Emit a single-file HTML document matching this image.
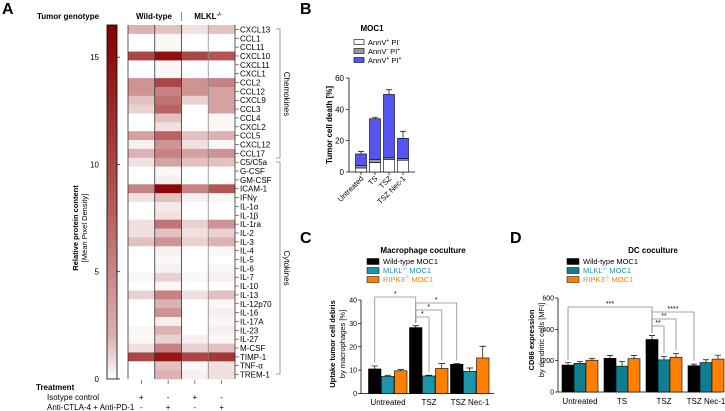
<!DOCTYPE html>
<html><head><meta charset="utf-8"><style>
body{margin:0;background:#fff}
svg{display:block;font-family:"Liberation Sans",Arial,sans-serif}
</style></head><body>
<svg id="fig" width="725" height="411" viewBox="0 0 725 411" xmlns="http://www.w3.org/2000/svg">
<text x="2" y="14" font-size="16" font-weight="bold">A</text>
<text x="300" y="14" font-size="16" font-weight="bold">B</text>
<text x="300" y="243" font-size="16" font-weight="bold">C</text>
<text x="510" y="243" font-size="16" font-weight="bold">D</text>
</svg>
<script>
const NS='http://www.w3.org/2000/svg';
const svg=document.getElementById('fig');
function mk(tag,a,txt){const e=document.createElementNS(NS,tag);for(const k in a)e.setAttribute(k,a[k]);if(txt!==undefined)e.textContent=txt;svg.appendChild(e);return e;}

/* ---------- Panel A data ---------- */
const hmRows=['CXCL13','CCL1','CCL11','CXCL10','CXCL11','CXCL1','CCL2','CCL12','CXCL9','CCL3','CCL4','CXCL2','CCL5','CXCL12','CCL17','C5/C5a','G-CSF','GM-CSF','ICAM-1','IFNγ','IL-1α','IL-1β','IL-1ra','IL-2','IL-3','IL-4','IL-5','IL-6','IL-7','IL-10','IL-13','IL-12p70','IL-16','IL-17A','IL-23','IL-27','M-CSF','TIMP-1','TNF-α','TREM-1'];
const hmWtIso=[5,0,0,12,0,0,7,7,4,3,0,0,6,1,5,2,0,0,8,2,0,0,2,2,4,0,0,0,0.5,0,3,0,0,0,0.5,0.5,2,12,0,0];
const hmWtAnti=[4,0.5,0.5,15.5,0.5,0.5,12,8,9,10,4,2,10,7,8,6,0.5,1,16,4,1.5,2,9,4,7,1,0.5,1,3,0.5,8,5,7,1,5,3,8,15,4,5];
const hmKoIso=[2,0,0,12,0,0,7,7,3,0,0,0,4,2,6,4,0,0,8,1,0,0,3,2,3,0,0,0,0.5,0,2,0,0,0,0,1,3,12,0.5,1];
const hmKoAnti=[4,0,0,11,0,0,8,6,6,6,0.5,0.5,5,0.5,7,4,0,0,11,0.5,0,0,7,3,5,0.5,0,0.5,1,0,4,0.5,1,0.5,1,0.5,4,13,2,2];
const hmCols=[hmWtIso,hmWtAnti,hmKoIso,hmKoAnti];
const cbTicks=[0,5,10,15];
const cbMax=16.5;

const hmX0=128,hmW=26.75,hmTop=25,rowH=8.85;
const cbY=v=>379-(v/cbMax)*354;
function heat(v){const t=Math.min(1,v/cbMax);const r=Math.round(255-(255-139)*t),g=Math.round(255-255*t),b=Math.round(255-255*t);return `rgb(${r},${g},${b})`;}

mk('text',{x:37,y:19,'font-size':8,'font-weight':'bold',},'Tumor genotype');
mk('text',{x:154,y:19,'font-size':8,'font-weight':'bold','text-anchor':'middle',},'Wild-type');
mk('line',{x1:181.5,y1:12,x2:181.5,y2:21,stroke:'#555','stroke-width':0.7,});
const mh=mk('text',{x:208,y:19,'font-size':8,'font-weight':'bold','text-anchor':'middle',});
mh.innerHTML='MLKL<tspan font-size="5.5" dy="-3">-/-</tspan>';

// colorbar
const defs=mk('defs',{});
defs.innerHTML='<linearGradient id="cbg" x1="0" y1="1" x2="0" y2="0"><stop offset="0" stop-color="#fff"/><stop offset="0.12" stop-color="#dcb0b0"/><stop offset="0.5" stop-color="#b45858"/><stop offset="1" stop-color="#850000"/></linearGradient>';
mk('rect',{x:107,y:25,width:10,height:354,fill:'url(#cbg)',stroke:'#000','stroke-width':0.8,});
cbTicks.forEach(v=>{
  const t=mk('line',{x1:117,y1:cbY(v),x2:120,y2:cbY(v),stroke:'#000','stroke-width':0.7});
  
  
  const l=mk('text',{x:99,y:cbY(v)+3,'font-size':8,'text-anchor':'end'},String(v));
  
  
});
mk('text',{x:0,y:0,'font-size':7.5,'font-weight':'bold','text-anchor':'middle',transform:'translate(78,228) rotate(-90)',},'Relative protein content');
mk('text',{x:0,y:0,'font-size':7.5,'text-anchor':'middle',transform:'translate(87,228) rotate(-90)',},'[Mean Pixel Density]');

// heatmap cells
hmCols.forEach((col,c)=>{
  col.forEach((v,r)=>{
    const cell=mk('rect',{x:hmX0+c*hmW,y:hmTop+r*rowH,width:hmW+0.3,height:rowH+0.3,fill:heat(v)});
    
    
  });
});
[0,1,2,3,4].forEach(i=>{
  const ln=mk('line',{x1:hmX0+i*hmW,y1:hmTop,x2:hmX0+i*hmW,y2:hmTop+hmRows.length*rowH,stroke:i===3?'#888':'#333','stroke-width':0.8});
  
  
});
hmRows.forEach((n,r)=>{
  const y=hmTop+(r+0.5)*rowH;
  const tk=mk('line',{x1:235,y1:y,x2:239,y2:y,stroke:'#333','stroke-width':0.6});
  
  
  const lb=mk('text',{x:240,y:y+3,'font-size':8},n);
  
  
});
// brackets
mk('path',{d:'M276,29 H280 V158 H276',fill:'none',stroke:'#888','stroke-width':0.8,});
mk('path',{d:'M276,162 H280 V374 H276',fill:'none',stroke:'#888','stroke-width':0.8,});
mk('text',{x:0,y:0,'font-size':8,'text-anchor':'middle',transform:'translate(284,94) rotate(90)',},'Chemokines');
mk('text',{x:0,y:0,'font-size':8,'text-anchor':'middle',transform:'translate(284,268) rotate(90)',},'Cytokines');
// treatment
const isoSigns=['+','-','+','-'],antiSigns=['-','+','-','+'];
mk('text',{x:36,y:390,'font-size':8,'font-weight':'bold',},'Treatment');
mk('text',{x:47,y:400,'font-size':8,},'Isotype control');
mk('text',{x:47,y:410,'font-size':8,},'Anti-CTLA-4 + Anti-PD-1');
[0,1,2,3].forEach(c=>{
  const cx=hmX0+(c+0.5)*hmW;
  const t=mk('line',{x1:cx,y1:380,x2:cx,y2:384,stroke:'#333','stroke-width':0.6});
  
  
  const a=mk('text',{x:cx,y:400,'font-size':8,'text-anchor':'middle'},isoSigns[c]);
  
  
  const b=mk('text',{x:cx,y:410,'font-size':8,'text-anchor':'middle'},antiSigns[c]);
  
  
});

/* ---------- Panel B data ---------- */
const bCats=['Untreated','TS','TSZ','TSZ Nec-1'];
const bWhite=[2.5,6,8,7.5];
const bGray=[1.5,2,1,1];
const bTotal=[11.5,34,49.5,21.5];
const bErr=[1.5,1,3,4.5];
const bTicks=[0,20,40,60];
const bY=v=>172-v/60*94;
const bX=i=>361+i*14;
mk('text',{x:372,y:31,'font-size':8,'font-weight':'bold','text-anchor':'middle',},'MOC1');
const bLeg=[['#fff','AnnV','+','PI','-'],['#999','AnnV','-','PI','+'],['#5555f2','AnnV','+','PI','+']];
bLeg.forEach((l,i)=>{
  const y=43+i*9;
  const r=mk('rect',{x:354,y:y-3.5,width:10,height:5,fill:l[0],stroke:'#000','stroke-width':0.6});
  
  
  const t=mk('text',{x:368,y:y+2,'font-size':7.5});
  t.innerHTML=`${l[1]}<tspan font-size="5" dy="-3">${l[2]}</tspan><tspan dy="3"> ${l[3]}</tspan><tspan font-size="5" dy="-3">${l[4]}</tspan>`;
  
  
});
mk('line',{x1:349,y1:bY(60),x2:349,y2:172,stroke:'#000','stroke-width':0.8,});
mk('line',{x1:349,y1:172,x2:415,y2:172,stroke:'#000','stroke-width':0.8,});
bTicks.forEach(v=>{
  const t=mk('line',{x1:346,y1:bY(v),x2:349,y2:bY(v),stroke:'#000','stroke-width':0.7});
  
  
  const l=mk('text',{x:344,y:bY(v)+3,'font-size':8,'text-anchor':'end'},String(v));
  
  
});
mk('text',{x:0,y:0,'font-size':8,'font-weight':'bold','text-anchor':'middle',transform:'translate(332,125) rotate(-90)',},'Tumor cell death [%]');
bCats.forEach((c,i)=>{
  const x=bX(i)-5.5;
  const eb=mk('path',{d:`M${bX(i)},${bY(bTotal[i])} V${bY(bTotal[i]+bErr[i])} M${bX(i)-3},${bY(bTotal[i]+bErr[i])} H${bX(i)+3}`,stroke:'#000','stroke-width':0.7,fill:'none'});
  
  
  const bl=mk('rect',{x:x,y:bY(bTotal[i]),width:11,height:bY(bWhite[i]+bGray[i])-bY(bTotal[i]),fill:'#5555f2',stroke:'#000','stroke-width':0.6});
  
  
  const gr=mk('rect',{x:x,y:bY(bWhite[i]+bGray[i]),width:11,height:bY(bWhite[i])-bY(bWhite[i]+bGray[i]),fill:'#999',stroke:'#000','stroke-width':0.6});
  
  
  const wh=mk('rect',{x:x,y:bY(bWhite[i]),width:11,height:172-bY(bWhite[i]),fill:'#fff',stroke:'#000','stroke-width':0.6});
  
  
  const tk=mk('line',{x1:bX(i),y1:172,x2:bX(i),y2:175,stroke:'#000','stroke-width':0.7});
  
  
  const l=mk('text',{x:0,y:0,'font-size':7.5,'text-anchor':'end',transform:`translate(${bX(i)+3},179) rotate(-45)`},c);
  
  
});

/* ---------- Grouped bar helper for C & D ---------- */
const cdColors=['#000','#1a95ab','#ff8000'];
const cdLegNames=[['Wild-type MOC1',''],['MLKL','-/- MOC1'],['RIPK3','-/- MOC1']];
function legendCD(x0,colors,pfx){
  cdLegNames.forEach((n,i)=>{
    const y=262+i*9;
    const r=mk('rect',{x:x0,y:y-3.5,width:12,height:6,fill:colors[i],stroke:'#000','stroke-width':0.5});
    
    
    const t=mk('text',{x:x0+16,y:y+2,'font-size':7.5,fill:i===0?'#000':(i===1?'#1a95ab':'#ff8000')});
    if(i===0)t.textContent=n[0];else t.innerHTML=`${n[0]}<tspan font-size="5" dy="-3">-/-</tspan><tspan dy="3"> MOC1</tspan>`;
    
    
  });
}

/* ---------- Panel C data ---------- */
const cCats=['Untreated','TSZ','TSZ Nec-1'];
const cWt=[10.5,28.2,12.5], cWtErr=[1.3,0.8,0.3];
const cMlkl=[7.3,7.5,9.5], cMlklErr=[0.5,0.3,1.4];
const cRipk=[9.7,10.7,15.2], cRipkErr=[0.5,2.2,5];
const cTicks=[0,10,20,30,40];
const cY=v=>393.5-v/40*93.5;
const cGX=i=>388+i*41;
const cAx=361;
mk('text',{x:423,y:253,'font-size':8,'font-weight':'bold','text-anchor':'middle',},'Macrophage coculture');
legendCD(367,cdColors,'c');
mk('line',{x1:cAx,y1:cY(40),x2:cAx,y2:393.5,stroke:'#000','stroke-width':0.8,});
mk('line',{x1:cAx,y1:393.5,x2:494,y2:393.5,stroke:'#000','stroke-width':0.8,});
cTicks.forEach(v=>{
  const t=mk('line',{x1:cAx-3,y1:cY(v),x2:cAx,y2:cY(v),stroke:'#000','stroke-width':0.7});
  
  
  const l=mk('text',{x:cAx-4,y:cY(v)+2.5,'font-size':7,'text-anchor':'end'},String(v));
  
  
});
mk('text',{x:0,y:0,'font-size':7.5,'font-weight':'bold','text-anchor':'middle',transform:'translate(335,344) rotate(-90)',},'Uptake tumor cell debris');
mk('text',{x:0,y:0,'font-size':7.5,'text-anchor':'middle',transform:'translate(345,344) rotate(-90)',},'by macrophages [%]');
const cSeries=[[cWt,cWtErr],[cMlkl,cMlklErr],[cRipk,cRipkErr]];
cCats.forEach((c,i)=>{
  cSeries.forEach((s,k)=>{
    const x=cGX(i)-19.5+k*13, v=s[0][i], e=s[1][i];
    const eb=mk('path',{d:`M${x+6.25},${cY(v)} V${cY(v+e)} M${x+3},${cY(v+e)} H${x+9.5}`,stroke:'#000','stroke-width':0.7,fill:'none'});
    
    
    const b=mk('rect',{x:x,y:cY(v),width:12.5,height:393.5-cY(v),fill:cdColors[k],stroke:'#000','stroke-width':0.6});
    
    
  });
  const l=mk('text',{x:cGX(i),y:405,'font-size':8,'text-anchor':'middle'},c);
  
  
});
function sig(x1,x2,yTop,y1b,y2b,label,name){
  const p=mk('path',{d:`M${x1},${y1b} V${yTop} H${x2} V${y2b}`,fill:'none',stroke:'#888','stroke-width':0.8});
  
  
  const t=mk('text',{x:(x1+x2)/2,y:yTop-1,'font-size':7,'text-anchor':'middle'},label);
  
  
}
const cb=i=>cGX(i)-13.25;
sig(cb(0),cb(1),297,cY(cWt[0]+cWtErr[0])-3,cY(cWt[1]+cWtErr[1])-3,'*','c-significance-bracket');
sig(cb(1),cb(2),303,cY(cWt[1]+cWtErr[1])-3,cY(cWt[2]+cWtErr[2])-3,'*','c-significance-bracket');
sig(cb(1),cGX(1)+12.75,310,cY(cWt[1]+cWtErr[1])-3,cY(cRipk[1]+cRipkErr[1])-3,'*','c-significance-bracket');
sig(cb(1),cGX(1),317,cY(cWt[1]+cWtErr[1])-3,cY(cMlkl[1]+cMlklErr[1])-3,'*','c-significance-bracket');

/* ---------- Panel D data ---------- */
const dCats=['Untreated','TS','TSZ','TSZ Nec-1'];
const dWt=[172,215,335,168], dWtErr=[15,18,25,10];
const dMlkl=[183,165,205,188], dMlklErr=[12,30,22,18];
const dRipk=[203,213,222,210], dRipkErr=[10,20,25,25];
const dTicks=[0,200,400,600];
const dColors=['#000','#0f7e92','#ff8000'];
const dY=v=>392-v/600*94;
const dGX=i=>580+i*42;
mk('text',{x:653,y:253,'font-size':8,'font-weight':'bold','text-anchor':'middle',},'DC coculture');
legendCD(567,dColors,'d');
mk('line',{x1:558,y1:dY(600),x2:558,y2:392,stroke:'#000','stroke-width':0.8,});
mk('line',{x1:558,y1:392,x2:721,y2:392,stroke:'#000','stroke-width':0.8,});
dTicks.forEach(v=>{
  const t=mk('line',{x1:555,y1:dY(v),x2:558,y2:dY(v),stroke:'#000','stroke-width':0.7});
  
  
  const l=mk('text',{x:554,y:dY(v)+2.5,'font-size':7,'text-anchor':'end'},String(v));
  
  
});
mk('text',{x:0,y:0,'font-size':7.5,'font-weight':'bold','text-anchor':'middle',transform:'translate(534,340) rotate(-90)',},'CD86 expression');
mk('text',{x:0,y:0,'font-size':7.5,'text-anchor':'middle',transform:'translate(544,340) rotate(-90)',},'by dendritic cells [MFI]');
const dSeries=[[dWt,dWtErr],[dMlkl,dMlklErr],[dRipk,dRipkErr]];
dCats.forEach((c,i)=>{
  dSeries.forEach((s,k)=>{
    const x=dGX(i)-18+k*12, v=s[0][i], e=s[1][i];
    const eb=mk('path',{d:`M${x+6},${dY(v)} V${dY(v+e)} M${x+3},${dY(v+e)} H${x+9}`,stroke:'#000','stroke-width':0.7,fill:'none'});
    
    
    const b=mk('rect',{x:x,y:dY(v),width:12,height:392-dY(v),fill:dColors[k],stroke:'#000','stroke-width':0.6});
    
    
  });
  const l=mk('text',{x:dGX(i),y:404,'font-size':8,'text-anchor':'middle'},c);
  
  
});
const db=i=>dGX(i)-12;
sig(db(0),db(2),307,dY(dWt[0]+dWtErr[0])-3,dY(dWt[2]+dWtErr[2])-3,'***','d-significance-bracket');
sig(db(2),db(3),312,dY(dWt[2]+dWtErr[2])-3,dY(dWt[3]+dWtErr[3])-3,'****','d-significance-bracket');
sig(db(2),dGX(2)+12,319,dY(dWt[2]+dWtErr[2])-3,dY(dRipk[2]+dRipkErr[2])-3,'**','d-significance-bracket');
sig(db(2),dGX(2),326,dY(dWt[2]+dWtErr[2])-3,dY(dMlkl[2]+dMlklErr[2])-3,'**','d-significance-bracket');
</script>
</body></html>
